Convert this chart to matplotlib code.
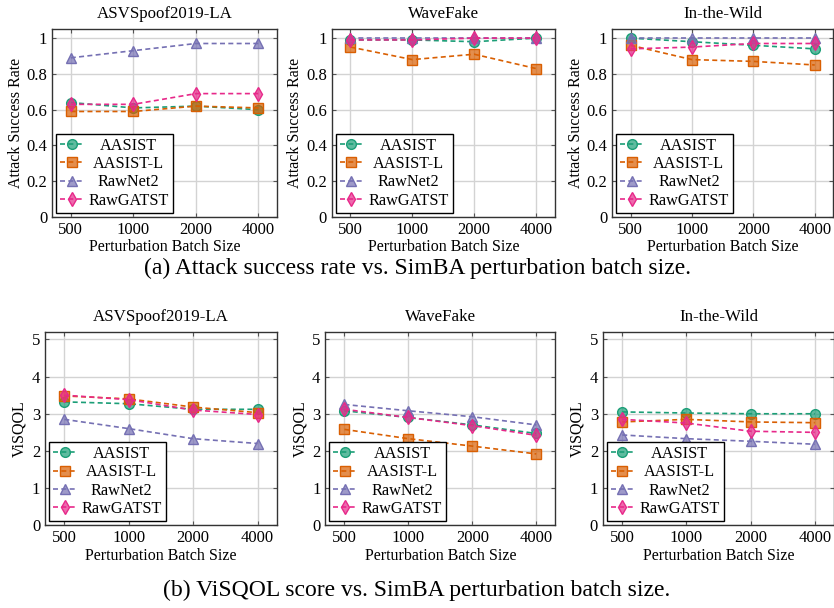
import numpy as np
import matplotlib
matplotlib.use("Agg")
import matplotlib.pyplot as plt
from matplotlib.colors import to_rgba

plt.rcParams['font.family'] = ['Liberation Serif', 'DejaVu Serif']
plt.rcParams['font.size'] = 11

batch_sizes = ['500', '1000', '2000', '4000']
models = ['AASIST', 'AASIST-L', 'RawNet2', 'RawGATST']
datasets = ['ASVSpoof2019-LA', 'WaveFake', 'In-the-Wild']

# attack success rate, one list per model
asr_asvspoof = {
    'AASIST':   [0.64, 0.61, 0.62, 0.60],
    'AASIST-L': [0.59, 0.59, 0.62, 0.61],
    'RawNet2':  [0.89, 0.93, 0.97, 0.97],
    'RawGATST': [0.63, 0.63, 0.69, 0.69],
}
asr_wavefake = {
    'AASIST':   [0.99, 0.99, 0.98, 1.00],
    'AASIST-L': [0.95, 0.88, 0.91, 0.83],
    'RawNet2':  [1.00, 1.00, 1.00, 1.00],
    'RawGATST': [0.99, 0.99, 1.00, 1.00],
}
asr_itw = {
    'AASIST':   [1.00, 0.98, 0.96, 0.94],
    'AASIST-L': [0.96, 0.88, 0.87, 0.85],
    'RawNet2':  [1.00, 1.00, 1.00, 1.00],
    'RawGATST': [0.94, 0.95, 0.97, 0.97],
}

# ViSQOL scores
visqol_asvspoof = {
    'AASIST':   [3.32, 3.27, 3.12, 3.12],
    'AASIST-L': [3.48, 3.40, 3.18, 3.03],
    'RawNet2':  [2.85, 2.60, 2.33, 2.20],
    'RawGATST': [3.50, 3.38, 3.10, 2.98],
}
visqol_wavefake = {
    'AASIST':   [3.08, 2.90, 2.70, 2.47],
    'AASIST-L': [2.58, 2.33, 2.13, 1.92],
    'RawNet2':  [3.25, 3.08, 2.92, 2.70],
    'RawGATST': [3.12, 2.90, 2.68, 2.42],
}
visqol_itw = {
    'AASIST':   [3.05, 3.02, 3.00, 3.00],
    'AASIST-L': [2.78, 2.85, 2.78, 2.76],
    'RawNet2':  [2.43, 2.33, 2.26, 2.18],
    'RawGATST': [2.85, 2.75, 2.53, 2.50],
}

colors = {'AASIST': '#1b9e77', 'AASIST-L': '#d95f02', 'RawNet2': '#7570b3', 'RawGATST': '#e7298a'}
markers = {'AASIST': 'o', 'AASIST-L': 's', 'RawNet2': '^', 'RawGATST': 'd'}
msizes = {'AASIST': 7, 'AASIST-L': 7.5, 'RawNet2': 7, 'RawGATST': 7}

fig = plt.figure(figsize=(8.34, 6.08), dpi=100)

top_pos = [[0.0624, 0.643, 0.270, 0.309],
           [0.398, 0.643, 0.267, 0.309],
           [0.734, 0.643, 0.265, 0.309]]
bot_pos = [[0.054, 0.136, 0.278, 0.318],
           [0.390, 0.136, 0.276, 0.318],
           [0.723, 0.136, 0.277, 0.318]]

legends = []


def draw_panel(pos, data, title, ylabel, ylim, yticks, yticklabels, ylabelpad):
    ax = fig.add_axes(pos)
    x = np.arange(len(batch_sizes))
    for m in models:
        c = colors[m]
        ax.plot(x, data[m], linestyle=(0, (3, 2)), lw=1.2, color=c,
                marker=markers[m], markersize=msizes[m],
                markerfacecolor=to_rgba(c, 0.7), markeredgecolor=c,
                markeredgewidth=1.0, label=m, zorder=3)
    ax.set_xlim(-0.3, 3.3)
    ax.set_ylim(*ylim)
    ax.set_xticks(x)
    ax.set_xticklabels(batch_sizes)
    ax.set_yticks(yticks)
    ax.set_yticklabels(yticklabels)
    ax.grid(True, color='#d3d3d3', lw=1.0)
    ax.set_axisbelow(True)
    ax.tick_params(direction='in', length=3, color='#555555', top=True, right=True,
                   labelsize=12)
    for s in ax.spines.values():
        s.set_color('#333333')
        s.set_linewidth(1.0)
    ax.set_title(title, fontsize=12.2, pad=8)
    ax.set_xlabel('Perturbation Batch Size', fontsize=11.5, labelpad=1)
    ax.set_ylabel(ylabel, fontsize=11.5, labelpad=ylabelpad)
    leg = ax.legend(loc='lower left', fontsize=11.7, frameon=True, fancybox=False,
                    edgecolor='black', framealpha=1, borderaxespad=0.25,
                    handlelength=1.4, handletextpad=0.35, labelspacing=0.15,
                    borderpad=0.25, numpoints=1)
    leg.get_frame().set_linewidth(1.0)
    legends.append(leg)
    return ax


asr_ticks = [0, 0.2, 0.4, 0.6, 0.8, 1.0]
asr_labels = ['0', '0.2', '0.4', '0.6', '0.8', '1']
vq_ticks = [0, 1, 2, 3, 4, 5]
vq_labels = ['0', '1', '2', '3', '4', '5']

for pos, data, title in zip(top_pos, [asr_asvspoof, asr_wavefake, asr_itw], datasets):
    draw_panel(pos, data, title, 'Attack Success Rate', (0, 1.05), asr_ticks, asr_labels, 2)

for pos, data, title in zip(bot_pos, [visqol_asvspoof, visqol_wavefake, visqol_itw], datasets):
    draw_panel(pos, data, title, 'ViSQOL', (0, 5.2), vq_ticks, vq_labels, 3)

fig.text(0.5, 1 - 268 / 608, '(a) Attack success rate vs. SimBA perturbation batch size.',
         ha='center', va='center', fontsize=17)
fig.text(0.5, 1 - 590 / 608, '(b) ViSQOL score vs. SimBA perturbation batch size.',
         ha='center', va='center', fontsize=17)

# centre legend labels like the pgfplots original
fig.canvas.draw()
renderer = fig.canvas.get_renderer()
for leg in legends:
    texts = leg.get_texts()
    widths = [t.get_window_extent(renderer).width for t in texts]
    wmax = max(widths)
    for t, w in zip(texts, widths):
        t.set_x((wmax - w) / 2)

fig.savefig('out.png', dpi=100)
